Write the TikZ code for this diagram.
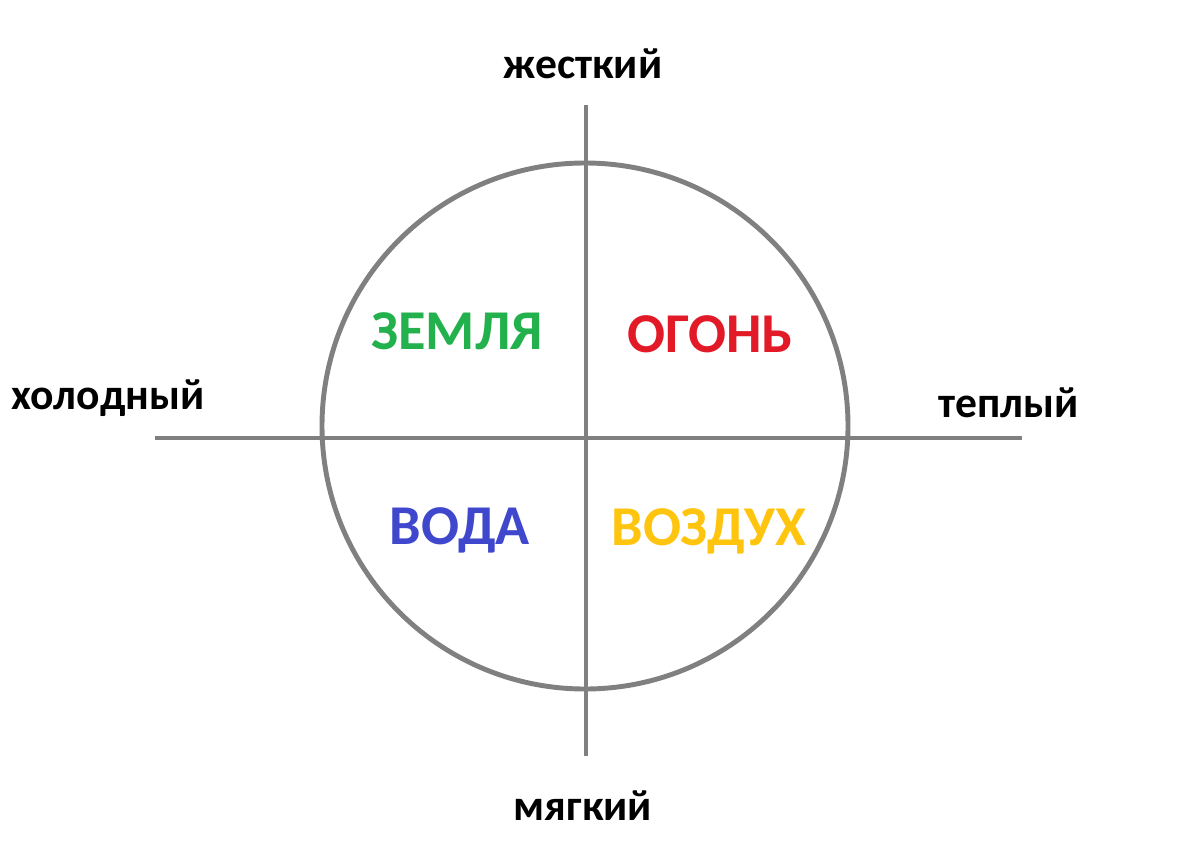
\documentclass[tikz,border=0pt]{standalone}
\usepackage{fontspec}
\setmainfont{Carlito}
\usepackage{xcolor}
\definecolor{axisgray}{RGB}{128,128,128}
\definecolor{earthgreen}{RGB}{34,177,76}
\definecolor{firered}{RGB}{226,26,40}
\definecolor{waterblue}{RGB}{63,72,204}
\definecolor{airyellow}{RGB}{255,196,14}
\tikzset{
	axisline/.style={draw=axisgray, line width=3.5pt},
	pole/.style={font=\fontsize{31}{32}\selectfont\bfseries, text=black},
	element/.style={font=\fontsize{40}{41}\selectfont\bfseries}
}
\begin{document}
\begin{tikzpicture}[x=0.025cm, y=-0.025cm]
			\useasboundingbox (0,0) rectangle (1200,847);
			\coordinate (c) at (585,426);
			\coordinate (top) at (586,105);
			\coordinate (bottom) at (586,756);
			\coordinate (left) at (155,438);
			\coordinate (right) at (1022,438);
			\draw[axisline] (c) circle (263);
			\draw[axisline] (top) -- (bottom);
			\draw[axisline] (left) -- (right);
			\node[pole] (hard) at (583,64) {жесткий};
			\node[pole] (soft) at (583,806) {мягкий};
			\node[pole] (cold) at (108,398) {холодный};
			\node[pole] (warm) at (1009,403) {теплый};
			\node[element, text=earthgreen] (earth) at (457,331) {ЗЕМЛЯ};
			\node[element, text=firered] (fire) at (710,334) {ОГОНЬ};
			\node[element, text=waterblue] (water) at (460,530) {ВОДА};
			\node[element, text=airyellow] (air) at (709,531) {ВОЗДУХ};
		\end{tikzpicture}
\end{document}
